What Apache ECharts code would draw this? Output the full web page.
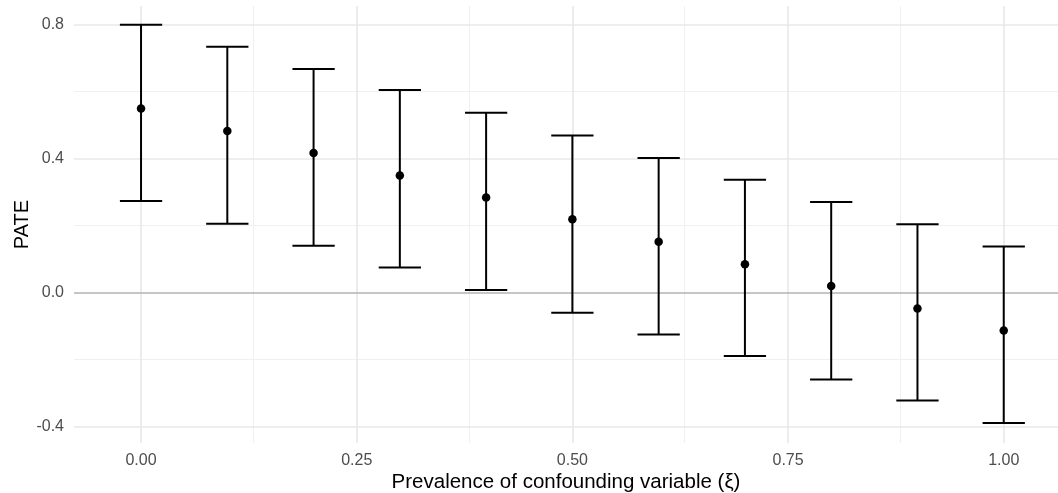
<!DOCTYPE html>
<html>
<head>
<meta charset="utf-8">
<script src="https://cdn.jsdelivr.net/npm/echarts@6/dist/echarts.min.js"></script>
<style>
html,body{margin:0;padding:0;background:#fff;}
#chart{width:1058px;height:493px;}
</style>
</head>
<body>
<div id="chart"></div>
<script>
// Data
var xi = [0.0, 0.1, 0.2, 0.3, 0.4, 0.5, 0.6, 0.7, 0.8, 0.9, 1.0];
var pate = [0.550, 0.483, 0.417, 0.350, 0.284, 0.219, 0.152, 0.085, 0.020, -0.047, -0.113];
var lower = [0.274, 0.206, 0.140, 0.075, 0.008, -0.060, -0.125, -0.189, -0.259, -0.322, -0.389];
var upper = [0.800, 0.734, 0.668, 0.605, 0.537, 0.469, 0.402, 0.337, 0.271, 0.204, 0.138];
var xTicks = [0, 0.25, 0.5, 0.75, 1];
var xTickLabels = ['0.00', '0.25', '0.50', '0.75', '1.00'];
var xMinor = [-0.125, 0.125, 0.375, 0.625, 0.875, 1.125];
var yTicks = [-0.4, 0, 0.4, 0.8];
var yTickLabels = ['-0.4', '0.0', '0.4', '0.8'];
var yMinor = [-0.6, -0.2, 0.2, 0.6];
var capHalfWidth = 0.0245;

var chart = echarts.init(document.getElementById('chart'), null, {renderer: 'canvas'});

var font = '"Liberation Sans", Arial, Helvetica, sans-serif';

function vLine(v, color, w) {
  return {xAxis: v, lineStyle: {color: color, width: w, type: 'solid'}};
}
function hLine(v, color, w) {
  return {yAxis: v, lineStyle: {color: color, width: w, type: 'solid'}};
}
var gridLines = [];
xMinor.forEach(function (v) { gridLines.push(vLine(v, '#f0f0f0', 1)); });
yMinor.forEach(function (v) { gridLines.push(hLine(v, '#f0f0f0', 1)); });
xTicks.forEach(function (v) { gridLines.push(vLine(v, '#e8e8e8', 1.6)); });
yTicks.forEach(function (v) { if (v !== 0) gridLines.push(hLine(v, '#e8e8e8', 1.6)); });

var errData = xi.map(function (x, i) { return [x, lower[i], upper[i]]; });
var ptData = xi.map(function (x, i) { return [x, pate[i]]; });

var option = {
  animation: false,
  backgroundColor: '#ffffff',
  grid: {left: 74, right: 0, top: 6, bottom: 50, containLabel: false, outerBoundsMode: 'none'},
  xAxis: {
    type: 'value',
    min: -0.0777,
    max: 1.0629,
    name: 'Prevalence of confounding variable (ξ)',
    nameLocation: 'middle',
    nameGap: 29,
    nameMoveOverlap: false,
    nameTextStyle: {color: '#000', fontSize: 20.5, fontFamily: font},
    axisLine: {show: false},
    axisTick: {show: false},
    splitLine: {show: false},
    axisLabel: {
      customValues: xTicks,
      formatter: function (v) {
        var i = xTicks.indexOf(v);
        return i >= 0 ? xTickLabels[i] : '';
      },
      color: '#4d4d4d', fontSize: 16, fontFamily: font, margin: 10
    }
  },
  yAxis: {
    type: 'value',
    min: -0.449,
    max: 0.856,
    name: 'PATE',
    nameLocation: 'middle',
    nameGap: 42,
    nameMoveOverlap: false,
    nameTextStyle: {color: '#000', fontSize: 20, fontFamily: font},
    axisLine: {show: false},
    axisTick: {show: false},
    splitLine: {show: false},
    axisLabel: {
      customValues: yTicks,
      formatter: function (v) {
        for (var i = 0; i < yTicks.length; i++) {
          if (Math.abs(yTicks[i] - v) < 1e-9) return yTickLabels[i];
        }
        return '';
      },
      color: '#4d4d4d', fontSize: 16, fontFamily: font, margin: 10
    }
  },
  series: [
    {
      type: 'line',
      data: [],
      silent: true,
      z: 1,
      markLine: {
        silent: true,
        z: 1,
        symbol: ['none', 'none'],
        label: {show: false},
        emphasis: {disabled: true},
        data: gridLines.concat([hLine(0, '#b3b3b3', 1.6)])
      }
    },
    {
      type: 'custom',
      data: errData,
      z: 3,
      silent: true,
      renderItem: function (params, api) {
        var x = api.value(0);
        var lo = api.coord([x, api.value(1)]);
        var hi = api.coord([x, api.value(2)]);
        var l = api.coord([x - capHalfWidth, api.value(1)]);
        var r = api.coord([x + capHalfWidth, api.value(1)]);
        var style = {stroke: '#000', lineWidth: 2, fill: null};
        return {
          type: 'group',
          children: [
            {type: 'line', shape: {x1: lo[0], y1: lo[1], x2: hi[0], y2: hi[1]}, style: style},
            {type: 'line', shape: {x1: l[0], y1: lo[1], x2: r[0], y2: lo[1]}, style: style},
            {type: 'line', shape: {x1: l[0], y1: hi[1], x2: r[0], y2: hi[1]}, style: style}
          ]
        };
      }
    },
    {
      type: 'scatter',
      data: ptData,
      symbol: 'circle',
      symbolSize: 8.5,
      itemStyle: {color: '#000', opacity: 1},
      z: 4,
      silent: true
    }
  ]
};
chart.setOption(option);
</script>
</body>
</html>
